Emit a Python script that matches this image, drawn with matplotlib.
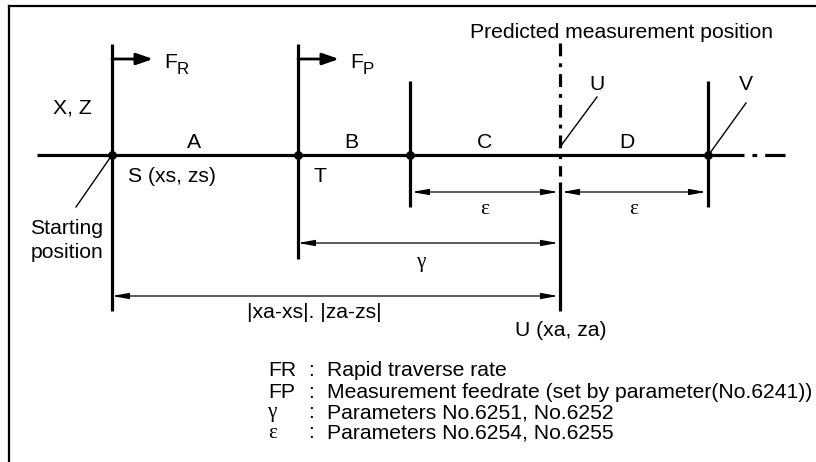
import numpy as np
import matplotlib.pyplot as plt

# Diagram geometry (pixel units of the original 816x462 picture)
axis_y = 155
axis_x = [37, 710]
axis_tail = [712, 785]

# vertical markers: x, top, bottom
marker_x = [112, 298, 410, 708]
marker_top = [44, 44, 81, 81]
marker_bottom = [311, 259, 207, 207]
dot_x = [112, 298, 410, 708]

pred_x = 560
pred_dashed = [43, 176]
pred_solid = [182, 311]

segment_labels = ['A', 'B', 'C', 'D']
segment_label_x = [194, 351, 485, 627]

# dimension arrows: (x0, x1, y)
eps_dims = [(412, 558, 192), (562, 706, 192)]
gamma_dim = (298, 558, 243)
total_dim = (112, 558, 296)

legend_keys = ['FR', 'FP', 'γ', 'ε']
legend_text = ['Rapid traverse rate',
               'Measurement feedrate (set by parameter(No.6241))',
               'Parameters No.6251, No.6252',
               'Parameters No.6254, No.6255']
legend_y = [371, 392, 413, 433]

sans = 'Liberation Sans'
serif = 'Liberation Serif'
fs = 15.2

fig = plt.figure(figsize=(8.16, 4.62), dpi=100)
ax = fig.add_axes([0, 0, 1, 1])
ax.set_xlim(0, 816)
ax.set_ylim(462, 0)
ax.axis('off')

# frame (top and left only)
ax.plot([8.5, 816], [5.5, 5.5], color='black', lw=1.6)
ax.plot([8.5, 8.5], [5.5, 462], color='black', lw=1.6)

# main axis
ax.plot(axis_x, [axis_y, axis_y], color='black', lw=2.3, solid_capstyle='butt')
ax.plot(axis_tail, [axis_y, axis_y], color='black', lw=2.3,
        dashes=(10, 2.5, 1.5, 2.5))

for x, t, b in zip(marker_x, marker_top, marker_bottom):
    ax.plot([x, x], [t, b], color='black', lw=2.3, solid_capstyle='butt')
ax.scatter(dot_x, [axis_y] * len(dot_x), s=28, color='black', zorder=5)

# predicted measurement position
ax.plot([pred_x, pred_x], pred_dashed, color='black', lw=2.3,
        dashes=(4, 2.2, 1.2, 2.2))
ax.plot([pred_x, pred_x], pred_solid, color='black', lw=2.3, solid_capstyle='butt')
ax.text(622, 32, 'Predicted measurement position', fontsize=fs, family=sans,
        ha='center', va='center')

# feedrate arrows
for x0, key in zip([112, 298], ['R', 'P']):
    ax.annotate('', xy=(x0 + 41, 59), xytext=(x0, 59),
                arrowprops=dict(arrowstyle='-|>,head_length=1.0,head_width=0.35',
                                lw=2, color='black', shrinkA=0, shrinkB=0))
    ax.text(x0 + 52, 62, 'F', fontsize=fs, family=sans, ha='left', va='center')
    ax.text(x0 + 65, 69, key, fontsize=fs * 0.8, family=sans, ha='left', va='center')

for lab, x in zip(segment_labels, segment_label_x):
    ax.text(x, 142, lab, fontsize=fs, family=sans, ha='center', va='center')

ax.text(72, 108, 'X, Z', fontsize=fs, family=sans, ha='center', va='center')
ax.text(128, 177, 'S (xs, zs)', fontsize=fs, family=sans, ha='left', va='center')
ax.text(320, 177, 'T', fontsize=fs, family=sans, ha='center', va='center')
ax.text(103, 228, 'Starting', fontsize=fs, family=sans, ha='right', va='center')
ax.text(103, 252, 'position', fontsize=fs, family=sans, ha='right', va='center')

# leader lines
ax.plot([112, 76], [155, 207], color='black', lw=1)
ax.plot([560, 597], [147, 97], color='black', lw=1)
ax.plot([710, 746], [153, 103], color='black', lw=1)
ax.text(597, 85, 'U', fontsize=fs, family=sans, ha='center', va='center')
ax.text(746, 85, 'V', fontsize=fs, family=sans, ha='center', va='center')


def dim(x0, x1, y):
    ax.annotate('', xy=(x1, y), xytext=(x0, y),
                arrowprops=dict(arrowstyle='<|-|>,head_length=1.0,head_width=0.18',
                                lw=0.9, color='black', shrinkA=0, shrinkB=0))


for x0, x1, y in eps_dims:
    dim(x0, x1, y)
    ax.text((x0 + x1) / 2, y + 18, 'ε', fontsize=fs, family=serif,
            ha='center', va='center')
dim(*gamma_dim)
ax.text(422, 263, 'γ', fontsize=fs, family=serif, ha='center', va='center')
dim(*total_dim)
ax.text(247, 313, '|xa-xs|. |za-zs|', fontsize=fs, family=sans, ha='left', va='center')
ax.text(515, 330, 'U (xa, za)', fontsize=fs, family=sans, ha='left', va='center')

# legend
for k, t, y in zip(legend_keys, legend_text, legend_y):
    ax.text(268, y, k, fontsize=fs, family=serif if k in 'γε' else sans,
            ha='left', va='center')
    ax.text(308, y, ':', fontsize=fs, family=sans, ha='left', va='center')
    ax.text(327, y, t, fontsize=fs, family=sans, ha='left', va='center')

fig.savefig('out.png', dpi=100)
